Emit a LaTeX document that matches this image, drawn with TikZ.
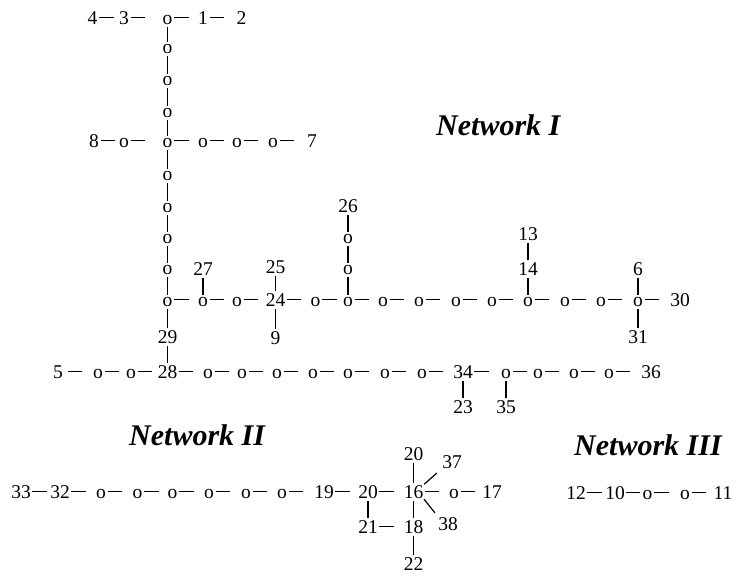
\documentclass[tikz,border=0pt]{standalone}
\usepackage{fontspec}
\usetikzlibrary{calc}
\setmainfont{Liberation Serif}
\newcommand\dashlift{6.8pt}
% a dash starts just right of its left node and keeps a fixed length,
% unless the right node is nearer; the free space is left before the right node
\newcommand\hlink[2]{%
  \draw[hcon] let \p1=([yshift=\dashlift]#1.base east),
                  \p2=([yshift=\dashlift]#2.base west),
                  \n1={min(\x1+16pt,\x2-2.5pt)} in
    (\x1+1.5pt,\y1) -- (\n1,\y2);}
\newcommand\vlink[2]{\draw[vcon] (#1.south) -- (#2.north);}
\tikzset{
  lbl/.style={inner sep=0pt, anchor=base, font=\fontsize{19.5}{20}\selectfont},
  hcon/.style={line width=1.2pt},
  vcon/.style={line width=1.2pt, shorten <=2.5pt, shorten >=2pt},
  title/.style={inner sep=0pt, anchor=base west, font=\fontsize{30}{30}\selectfont\bfseries\itshape}
}
\begin{document}
\begin{tikzpicture}[x=1pt, y=-1pt]
\useasboundingbox (0,0) rectangle (736,576);

% ---------------- Network I ----------------
\node[title] (t1) at (436,135) {Network I};
% top row
\node[lbl] (n4) at (92.5,24) {4};
\node[lbl] (n3) at (124,24) {3};
\node[lbl] (a0) at (167.5,24) {o};
\node[lbl] (n1) at (203,24) {1};
\node[lbl] (n2) at (241.5,24) {2};
% main column
\node[lbl] (c1) at (167.5,53) {o};
\node[lbl] (c2) at (167.5,85) {o};
\node[lbl] (c3) at (167.5,117) {o};
\node[lbl] (b0) at (167.5,147) {o};
\node[lbl] (c4) at (167.5,180) {o};
\node[lbl] (c5) at (167.5,212) {o};
\node[lbl] (c6) at (167.5,243) {o};
\node[lbl] (c7) at (167.5,274) {o};
\node[lbl] (r0) at (167.5,306) {o};
% second row
\node[lbl] (n8) at (94,147) {8};
\node[lbl] (b1) at (124,147) {o};
\node[lbl] (b2) at (203,147) {o};
\node[lbl] (b3) at (237,147) {o};
\node[lbl] (b4) at (273,147) {o};
\node[lbl] (n7) at (312,147) {7};
% long row
\node[lbl] (r1) at (203,306) {o};
\node[lbl] (r2) at (237,306) {o};
\node[lbl] (n24) at (275.5,306) {24};
\node[lbl] (r3) at (315.5,306) {o};
\node[lbl] (r4) at (348,306) {o};
\node[lbl] (r5) at (383,306) {o};
\node[lbl] (r6) at (419,306) {o};
\node[lbl] (r7) at (456,306) {o};
\node[lbl] (r8) at (492,306) {o};
\node[lbl] (r9) at (528,306) {o};
\node[lbl] (r10) at (565,306) {o};
\node[lbl] (r11) at (601,306) {o};
\node[lbl] (r12) at (638,306) {o};
\node[lbl] (n30) at (680,306) {30};
% branches of the long row
\node[lbl] (n27) at (203,275) {27};
\node[lbl] (n25) at (275.5,273) {25};
\node[lbl] (n9) at (275.5,344) {9};
\node[lbl] (u1) at (348,274) {o};
\node[lbl] (u2) at (348,243) {o};
\node[lbl] (n26) at (348,212) {26};
\node[lbl] (n14) at (528,275) {14};
\node[lbl] (n13) at (528,240) {13};
\node[lbl] (n6) at (638,275) {6};
\node[lbl] (n31) at (638,343) {31};
\node[lbl] (n29) at (167.5,343) {29};
% bottom row
\node[lbl] (n5) at (58,378) {5};
\node[lbl] (d1) at (98,378) {o};
\node[lbl] (d2) at (131,378) {o};
\node[lbl] (n28) at (167.5,378) {28};
\node[lbl] (d3) at (208,378) {o};
\node[lbl] (d4) at (242,378) {o};
\node[lbl] (d5) at (277,378) {o};
\node[lbl] (d6) at (313,378) {o};
\node[lbl] (d7) at (348,378) {o};
\node[lbl] (d8) at (385,378) {o};
\node[lbl] (d9) at (422,378) {o};
\node[lbl] (n34) at (463,378) {34};
\node[lbl] (d10) at (506,378) {o};
\node[lbl] (d11) at (538,378) {o};
\node[lbl] (d12) at (574,378) {o};
\node[lbl] (d13) at (609,378) {o};
\node[lbl] (n36) at (651,378) {36};
\node[lbl] (n23) at (463,413) {23};
\node[lbl] (n35) at (506,413) {35};

\foreach \a/\b in {n4/n3, n3/a0, a0/n1, n1/n2,
    n8/b1, b1/b0, b0/b2, b2/b3, b3/b4, b4/n7,
    r0/r1, r1/r2, r2/n24, n24/r3, r3/r4, r4/r5, r5/r6, r6/r7, r7/r8,
    r8/r9, r9/r10, r10/r11, r11/r12, r12/n30,
    d1/d2, d2/n28, n28/d3, d3/d4, d4/d5, d5/d6, d6/d7, d7/d8,
    d8/d9, d9/n34, n34/d10, d10/d11, d11/d12, d12/d13, d13/n36}
  {\hlink{\a}{\b}}
% the dash after 5 stands clear of both ends
\draw[hcon, shorten <=5pt, shorten >=11pt]
  ([yshift=\dashlift]n5.base east) -- ([yshift=\dashlift]d1.base west);
\foreach \a/\b in {a0/c1, c1/c2, c2/c3, c3/b0, b0/c4, c4/c5, c5/c6, c6/c7, c7/r0,
    r0/n29, n29/n28, n27/r1, n25/n24, n24/n9, n26/u2, u2/u1, u1/r4,
    n13/n14, n14/r9, n6/r12, r12/n31, n34/n23, d10/n35}
  {\vlink{\a}{\b}}

% ---------------- Network II ----------------
\node[title] (t2) at (129,445) {Network II};
\node[lbl] (n33) at (21,498) {33};
\node[lbl] (n32) at (60,498) {32};
\node[lbl] (e1) at (101,498) {o};
\node[lbl] (e2) at (137.5,498) {o};
\node[lbl] (e3) at (172.5,498) {o};
\node[lbl] (e4) at (209,498) {o};
\node[lbl] (e5) at (246,498) {o};
\node[lbl] (e6) at (282,498) {o};
\node[lbl] (n19) at (324,498) {19};
\node[lbl] (n20a) at (368,498) {20};
\node[lbl] (n16) at (413.5,498) {16};
\node[lbl] (e7) at (454,498) {o};
\node[lbl] (n17) at (492,498) {17};
\node[lbl] (n20b) at (413.5,460) {20};
\node[lbl] (n37) at (452,468) {37};
\node[lbl] (n38) at (448,530) {38};
\node[lbl] (n21) at (368,533) {21};
\node[lbl] (n18) at (413.5,533) {18};
\node[lbl] (n22) at (413.5,570) {22};

\foreach \a/\b in {n33/n32, n32/e1, e1/e2, e2/e3, e3/e4, e4/e5, e5/e6, e6/n19,
    n19/n20a, n20a/n16, n16/e7, e7/n17, n21/n18}
  {\hlink{\a}{\b}}
\foreach \a/\b in {n20b/n16, n16/n18, n18/n22, n20a/n21}
  {\vlink{\a}{\b}}
\draw[hcon, shorten <=1pt, shorten >=7pt] (n16.north east) -- (n37.south west);
\draw[hcon, shorten <=1pt, shorten >=5pt] (n16.south east) -- (n38.north west);

% ---------------- Network III ----------------
\node[title] (t3) at (574,455) {Network III};
\node[lbl] (n12) at (576,499) {12};
\node[lbl] (n10) at (615,499) {10};
\node[lbl] (f1) at (647.5,499) {o};
\node[lbl] (f2) at (685,499) {o};
\node[lbl] (n11) at (723,499) {11};
\foreach \a/\b in {n12/n10, n10/f1, f1/f2, f2/n11}
  {\hlink{\a}{\b}}
\end{tikzpicture}
\end{document}
